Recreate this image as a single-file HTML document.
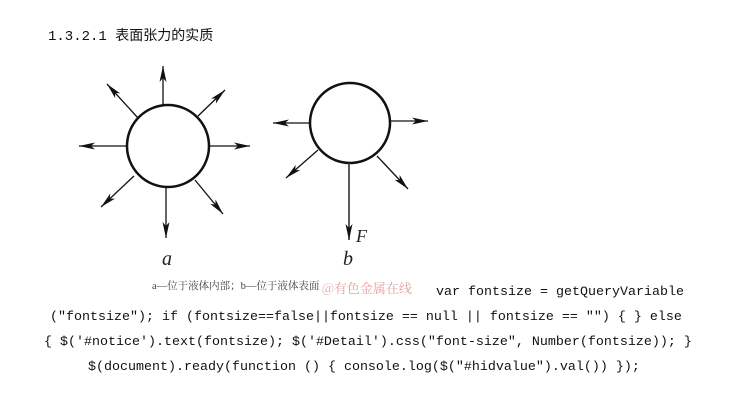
<!DOCTYPE html>
<html><head><meta charset="utf-8"><style>
body{margin:0;width:730px;height:416px;background:#fff;position:relative;overflow:hidden}
.t{position:absolute;white-space:pre;font-family:"Liberation Mono","Noto Sans CJK SC",monospace;font-size:13.33px;color:#111}
</style></head><body>
<div class="t" style="left:48px;top:25px;font-size:14px">1.3.2.1 <span style="font-family:'Noto Sans CJK SC',sans-serif">表面张力的实质</span></div>
<svg width="730" height="416" style="position:absolute;left:0;top:0">
<defs>
<marker id="m2" viewBox="0 0 16 7" refX="16" refY="3.5" markerWidth="16" markerHeight="7" orient="auto" markerUnits="userSpaceOnUse"><path d="M0,0 L16,3.5 L0,7 L4,3.5z" fill="#111"/></marker></defs>
<g stroke="#111" stroke-width="1.3" fill="none">
<circle cx="168" cy="146" r="41" stroke-width="2.5"/>
<line x1="163" y1="106" x2="163" y2="66" marker-end="url(#m2)"/>
<line x1="138" y1="118" x2="107" y2="84" marker-end="url(#m2)"/>
<line x1="198" y1="116" x2="225" y2="90" marker-end="url(#m2)"/>
<line x1="127" y1="146" x2="79" y2="146" marker-end="url(#m2)"/>
<line x1="209" y1="146" x2="250" y2="146" marker-end="url(#m2)"/>
<line x1="134" y1="176" x2="101" y2="207" marker-end="url(#m2)"/>
<line x1="195" y1="180" x2="223" y2="214" marker-end="url(#m2)"/>
<line x1="166" y1="188" x2="166" y2="238" marker-end="url(#m2)"/>
<circle cx="350" cy="123" r="40" stroke-width="2.5"/>
<line x1="310" y1="123" x2="273" y2="123" marker-end="url(#m2)"/>
<line x1="390" y1="121" x2="428" y2="121" marker-end="url(#m2)"/>
<line x1="318" y1="150" x2="286" y2="178" marker-end="url(#m2)"/>
<line x1="377" y1="156" x2="408" y2="189" marker-end="url(#m2)"/>
<line x1="349" y1="163" x2="349" y2="240" marker-end="url(#m2)" stroke="#333" stroke-width="1.6"/>
</g>
<g font-family="Liberation Serif,serif" font-style="italic" font-size="20" fill="#222">
<text x="162" y="265">a</text><text x="343" y="265">b</text><text x="356" y="242" font-size="18">F</text>
</g>
<text x="152" y="289" font-family="Liberation Serif,'Noto Serif CJK SC',serif" font-size="10.5" fill="#444">a—位于液体内部；b—位于液体表面</text>
<text x="322" y="293" font-family="'Noto Serif CJK SC',serif" font-size="13" fill="#e3a0a0">@有色金属在线</text>
</svg>
<div class="t" style="left:436px;top:285px">var fontsize = getQueryVariable</div>
<div class="t" style="left:50px;top:310px">("fontsize"); if (fontsize==false||fontsize == null || fontsize == "") { } else</div>
<div class="t" style="left:44px;top:335px">{ $('#notice').text(fontsize); $('#Detail').css("font-size", Number(fontsize)); }</div>
<div class="t" style="left:88px;top:360px">$(document).ready(function () { console.log($("#hidvalue").val()) });</div>
</body></html>
